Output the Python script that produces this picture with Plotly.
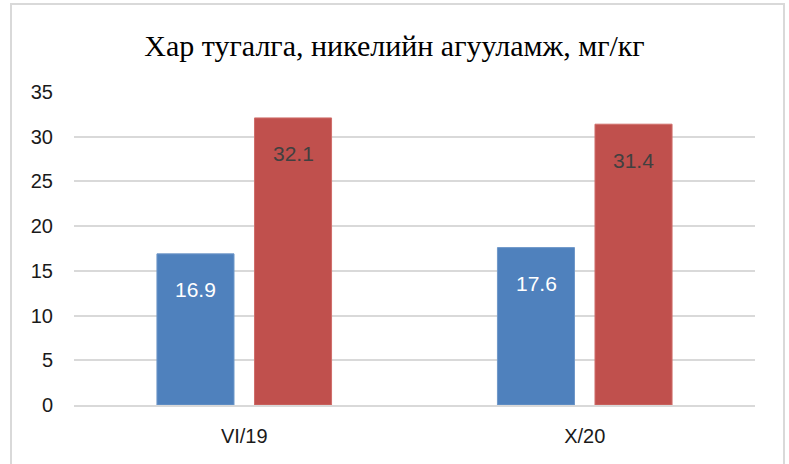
import plotly.graph_objects as go

categories = ["VI/19", "X/20"]
series_a = [16.9, 17.6]
series_b = [32.1, 31.4]
y_ticks = [0, 5, 10, 15, 20, 25, 30, 35]

W, H = 789, 464
ml, mr, mt, mb = 74, 34, 92, 59
pw, ph = W - ml - mr, H - mt - mb

fig = go.Figure()
fig.add_trace(go.Bar(x=categories, y=series_a, name="A",
                     marker=dict(color="#4f81bd", line=dict(color="#6f97c8", width=1))))
fig.add_trace(go.Bar(x=categories, y=series_b, name="B",
                     marker=dict(color="#c0504d", line=dict(color="#cf6e6b", width=1))))

font_sans = "Liberation Sans"
anns = []
for c, v in zip(categories, series_a):
    anns.append(dict(x=c, y=v, xref="x", yref="y", text=f"{v:.1f}", showarrow=False,
                     xshift=-48.75, yshift=-36, font=dict(family=font_sans, size=21, color="white")))
for c, v in zip(categories, series_b):
    anns.append(dict(x=c, y=v, xref="x", yref="y", text=f"{v:.1f}", showarrow=False,
                     xshift=48.75, yshift=-36, font=dict(family=font_sans, size=21, color="#404040")))

fig.update_layout(
    width=W, height=H,
    margin=dict(l=ml, r=mr, t=mt, b=mb),
    paper_bgcolor="white", plot_bgcolor="white",
    showlegend=False,
    barmode="group", bargap=0.427, bargroupgap=0.21,
    title=dict(text="Хар тугалга, никелийн агууламж, мг/кг", x=0.5, xanchor="center",
               y=1 - 45 / H, yanchor="middle", yref="container",
               font=dict(family="Liberation Serif", size=30, color="black")),
    annotations=anns,
    shapes=[dict(type="rect", xref="paper", yref="paper",
                 x0=(11 - ml) / pw, x1=(784 - ml) / pw,
                 y0=(H - mb - 475) / ph, y1=(H - mb - 4) / ph,
                 line=dict(color="#d9d9d9", width=2), fillcolor="rgba(0,0,0,0)", layer="below")],
    font=dict(family=font_sans, color="#222"),
)
fig.update_yaxes(range=[0, 35], tickvals=y_ticks, showgrid=True, gridcolor="#d9d9d9", gridwidth=1.5,
                 zeroline=False, showline=False, ticks="", ticklabelstandoff=20,
                 tickfont=dict(family=font_sans, size=20, color="#1a1a1a"))
fig.update_xaxes(showline=True, linecolor="#d9d9d9", linewidth=1.5, ticks="", ticklabelstandoff=12,
                 tickfont=dict(family=font_sans, size=20, color="#1a1a1a"))

fig.write_html("out.html", config={"displayModeBar": False},
               post_script="document.body.style.margin='0';document.body.style.overflow='hidden';")
